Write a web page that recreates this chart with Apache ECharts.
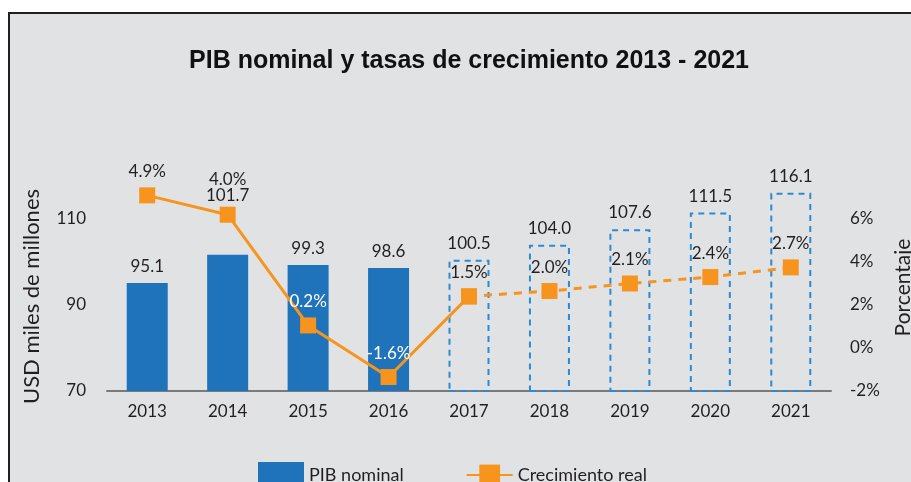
<!DOCTYPE html>
<html>
<head>
<meta charset="utf-8">
<script src="https://cdn.jsdelivr.net/npm/echarts@6/dist/echarts.min.js"></script>
<style>
  html, body {
    margin: 0;
    padding: 0;
    width: 911px;
    height: 482px;
    background: #ffffff;
    overflow: hidden;
  }
  .frame {
    position: absolute;
    box-sizing: border-box;
    left: 8px;
    top: 12px;
    width: 903px;
    height: 470px;
    background: #e1e2e4;
    border-top: 2px solid #1f1f1f;
    border-left: 2px solid #1f1f1f;
  }
  #chart {
    position: absolute;
    left: 0;
    top: 0;
    width: 911px;
    height: 482px;
  }
</style>
</head>
<body>
<div class="frame"></div>
<div id="chart"></div>
<script>
// datos
const years = ['2013', '2014', '2015', '2016', '2017', '2018', '2019', '2020', '2021']
const pibNominal = [95.1, 101.7, 99.3, 98.6, 100.5, 104.0, 107.6, 111.5, 116.1]
// posicion de los marcadores tal como aparecen en el grafico (eje derecho, %)
const crecimiento = [7.1, 6.2, 1.05, -1.35, 2.4, 2.65, 3.0, 3.3, 3.75]
// texto de las etiquetas de crecimiento
const crecimientoTxt = ['4.9%', '4.0%', '0.2%', '-1.6%', '1.5%', '2.0%', '2.1%', '2.4%', '2.7%']
const leftTicks = [70, 90, 110]
const rightTicks = [-2, 0, 2, 4, 6]
const firstProj = 4 // desde 2017 son proyecciones

const BLUE = '#1f73bb'
const ORANGE = '#f7941d'
const TEXT = '#231f20'
const FONT = 'Lato'

const chart = echarts.init(document.getElementById('chart'))

const barData = pibNominal.map((v, i) => {
  const item = {value: v}
  if (i >= firstProj) {
    item.itemStyle = {
      color: 'rgba(0,0,0,0)',
      borderColor: '#2b8ad3',
      borderWidth: 2,
      borderType: [6, 5]
    }
  }
  if (i === 1) {
    item.label = {offset: [0, -43]}
  }
  return item
})

function lineItem(i) {
  const white = i === 2 || i === 3
  return {
    value: crecimiento[i],
    label: {
      show: true,
      formatter: crecimientoTxt[i],
      color: white ? '#ffffff' : TEXT,
      offset: i === 1 ? [0, -12] : [0, 0]
    }
  }
}

const realData = years.map((y, i) => i <= firstProj - 1 ? lineItem(i) : (i === firstProj ? {value: crecimiento[i], label: {show: false}} : null))
const projData = years.map((y, i) => i >= firstProj ? lineItem(i) : null)

const option = {
  textStyle: {fontFamily: FONT},
  title: {
    text: 'PIB nominal y tasas de crecimiento 2013 - 2021',
    left: 464,
    top: 44,
    textAlign: 'center',
    textStyle: {
      fontFamily: '"Liberation Sans", Arial, sans-serif',
      fontWeight: 'bold',
      fontSize: 25,
      color: '#111111'
    }
  },
  legend: {
    top: 457,
    left: 253,
    itemWidth: 46,
    itemHeight: 26,
    itemGap: 62,
    textStyle: {fontFamily: FONT, fontSize: 18, color: TEXT},
    data: [
      {name: 'PIB nominal', icon: 'rect'},
      {name: 'Crecimiento real'}
    ]
  },
  grid: {
    left: 107,
    top: 176,
    width: 724,
    height: 215,
    containLabel: false,
    outerBoundsMode: 'none'
  },
  xAxis: {
    type: 'category',
    data: years,
    axisTick: {show: false},
    axisLine: {onZero: false, lineStyle: {color: '#7a7a7a', width: 2}},
    axisLabel: {color: TEXT, fontSize: 17, margin: 12, fontFamily: FONT}
  },
  yAxis: [
    {
      type: 'value',
      min: 70,
      max: 120,
      interval: 20,
      name: 'USD miles de millones',
      nameLocation: 'middle',
      nameRotate: 90,
      nameGap: 64,
      nameTextStyle: {fontSize: 22, color: TEXT, fontFamily: FONT, padding: [0, 26, 0, 0]},
      splitLine: {show: false},
      axisLine: {show: false},
      axisTick: {show: false},
      axisLabel: {
        color: TEXT,
        fontSize: 17,
        margin: 21,
        fontFamily: FONT,
        formatter: v => leftTicks.includes(v) ? String(v) : ''
      }
    },
    {
      type: 'value',
      min: -2,
      max: 8,
      interval: 2,
      position: 'right',
      name: 'Porcentaje',
      nameLocation: 'middle',
      nameRotate: 90,
      nameGap: 62,
      nameTextStyle: {fontSize: 21, color: TEXT, fontFamily: FONT, padding: [0, 8, 0, 0]},
      splitLine: {show: false},
      axisLine: {show: false},
      axisTick: {show: false},
      axisLabel: {
        color: TEXT,
        fontSize: 17,
        margin: 19,
        fontFamily: FONT,
        formatter: v => rightTicks.includes(v) ? v + '%' : ''
      }
    }
  ],
  series: [
    {
      name: 'PIB nominal',
      type: 'bar',
      barWidth: 41,
      data: barData,
      itemStyle: {color: BLUE},
      label: {
        show: true,
        position: 'top',
        distance: 8,
        color: TEXT,
        fontSize: 17,
        fontFamily: FONT,
        formatter: p => p.value.toFixed(1)
      }
    },
    {
      name: 'Crecimiento real',
      type: 'line',
      yAxisIndex: 1,
      data: realData,
      symbol: 'rect',
      symbolSize: 16,
      lineStyle: {color: ORANGE, width: 3},
      itemStyle: {color: ORANGE},
      label: {position: 'top', distance: 7, fontSize: 17, fontFamily: FONT},
      z: 5
    },
    {
      name: 'Proyeccion',
      type: 'line',
      yAxisIndex: 1,
      data: projData,
      symbol: 'rect',
      symbolSize: 16,
      lineStyle: {color: ORANGE, width: 3, type: [8, 7]},
      itemStyle: {color: ORANGE},
      label: {position: 'top', distance: 7, fontSize: 17, fontFamily: FONT},
      z: 5
    }
  ]
}

chart.setOption(option)
</script>
</body>
</html>
